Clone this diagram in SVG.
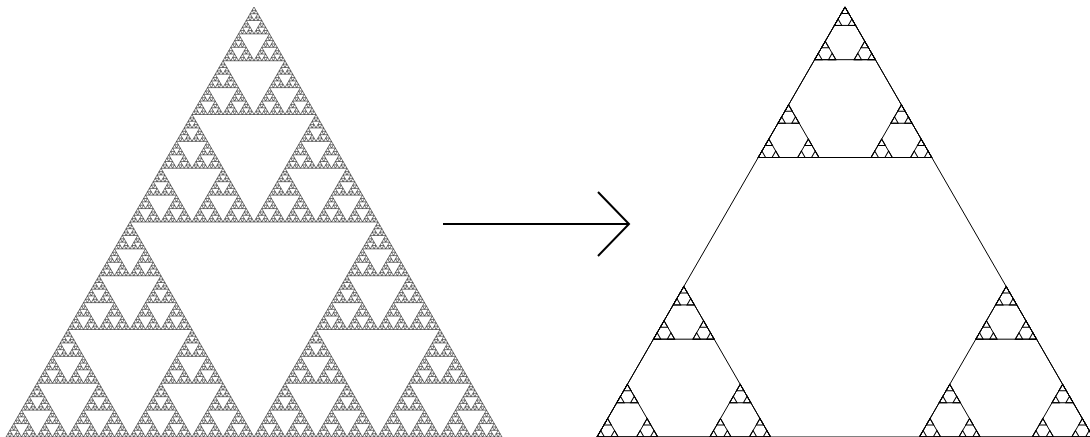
<svg xmlns="http://www.w3.org/2000/svg" xmlns:xlink="http://www.w3.org/1999/xlink" width="1090" height="437" viewBox="0 0 1090 437">
  <style>
    .sier { fill: none; stroke: #1a1a1a; stroke-width: 0.6; }
    .frac { fill: none; stroke: #000; stroke-width: 1; }
    .conn { fill: none; stroke: #000; stroke-width: 2; }
  </style>
  <defs>
    <polygon id="t" points="0,0 -248,430 248,430" vector-effect="non-scaling-stroke" stroke-linejoin="miter"/>
    <!-- Sierpinski levels (scale 1/2) -->
    <g id="s1"><use href="#t" transform="scale(.5)"/><use href="#t" transform="translate(-124,215) scale(.5)"/><use href="#t" transform="translate(124,215) scale(.5)"/></g>
    <g id="s2"><use href="#s1" transform="scale(.5)"/><use href="#s1" transform="translate(-124,215) scale(.5)"/><use href="#s1" transform="translate(124,215) scale(.5)"/></g>
    <g id="s3"><use href="#s2" transform="scale(.5)"/><use href="#s2" transform="translate(-124,215) scale(.5)"/><use href="#s2" transform="translate(124,215) scale(.5)"/></g>
    <g id="s4"><use href="#s3" transform="scale(.5)"/><use href="#s3" transform="translate(-124,215) scale(.5)"/><use href="#s3" transform="translate(124,215) scale(.5)"/></g>
    <g id="s5"><use href="#s4" transform="scale(.5)"/><use href="#s4" transform="translate(-124,215) scale(.5)"/><use href="#s4" transform="translate(124,215) scale(.5)"/></g>
    <g id="s6"><use href="#s5" transform="scale(.5)"/><use href="#s5" transform="translate(-124,215) scale(.5)"/><use href="#s5" transform="translate(124,215) scale(.5)"/></g>
    <g id="s7"><use href="#s6" transform="scale(.5)"/><use href="#s6" transform="translate(-124,215) scale(.5)"/><use href="#s6" transform="translate(124,215) scale(.5)"/></g>
    <!-- Corner fractal levels (scale 0.35) -->
    <g id="r1"><use href="#t"/><use href="#t" transform="scale(.35)"/><use href="#t" transform="translate(-161.2,279.5) scale(.35)"/><use href="#t" transform="translate(161.2,279.5) scale(.35)"/></g>
    <g id="r2"><use href="#t"/><use href="#r1" transform="scale(.35)"/><use href="#r1" transform="translate(-161.2,279.5) scale(.35)"/><use href="#r1" transform="translate(161.2,279.5) scale(.35)"/></g>
    <g id="r3"><use href="#t"/><use href="#r2" transform="scale(.35)"/><use href="#r2" transform="translate(-161.2,279.5) scale(.35)"/><use href="#r2" transform="translate(161.2,279.5) scale(.35)"/></g>
    <g id="r4"><use href="#t"/><use href="#r3" transform="scale(.35)"/><use href="#r3" transform="translate(-161.2,279.5) scale(.35)"/><use href="#r3" transform="translate(161.2,279.5) scale(.35)"/></g>
    <marker id="chev" markerUnits="userSpaceOnUse" viewBox="0 0 34 66" refX="32" refY="33" markerWidth="34" markerHeight="66" orient="auto">
      <path d="M1,1 L32,33 L1,65" fill="none" stroke="#000" stroke-width="2"/>
    </marker>
  </defs>
  <rect width="1090" height="437" fill="#fff"/>
  <g id="sierpinski" class="sier">
    <use href="#s7" transform="translate(254,7)"/>
  </g>
  <g id="corner-fractal" class="frac">
    <use href="#r4" transform="translate(845,7)"/>
  </g>
  <g id="connectors">
    <path class="conn" d="M443,224 L629,224" marker-end="url(#chev)"/>
  </g>
</svg>
